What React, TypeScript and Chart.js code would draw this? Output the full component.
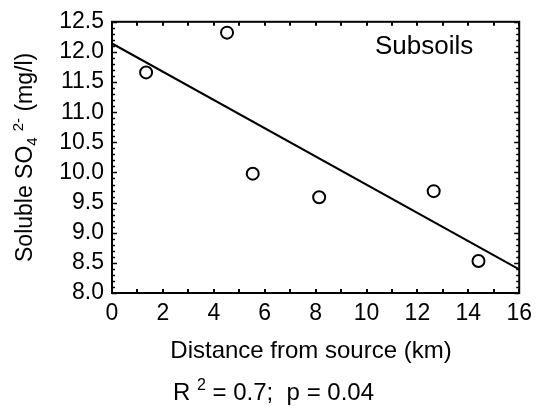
import React, { useEffect, useRef } from "react";
import { Chart, registerables } from "chart.js";

Chart.register(...registerables);

// ---- data ----
const sampleDistance = [1.34, 4.52, 5.53, 8.14, 12.64, 14.4];
const sampleSulfate = [11.66, 12.32, 9.98, 9.59, 9.69, 8.53];
const fitDistance = [0, 16];
const fitSulfate = [12.14, 8.39];

const xTickStep = 2;
const yTickStep = 0.5;
const xRange = [0, 16];
const yRange = [8.0, 12.5];

const xTitle = "Distance from source (km)";
const yTitleMain = "Soluble SO";
const yTitleSub = "4";
const yTitleSup = "2-";
const yTitleTail = " (mg/l)";
const panelLabel = "Subsoils";
const statsPre = "R ";
const statsSup = "2";
const statsPost = " = 0.7;  p = 0.04";

const FONT = '"Liberation Sans", Arial, Helvetica, sans-serif';

const decorPlugin = {
  id: "decor",
  afterDraw(chart: any) {
    const { ctx, chartArea: a } = chart;
    const x = chart.scales.x;
    const y = chart.scales.y;
    ctx.save();
    ctx.strokeStyle = "#000";
    ctx.fillStyle = "#000";

    // inward minor/major ticks on all four sides
    ctx.lineWidth = 2;
    for (let v = xRange[0]; v <= xRange[1]; v += 1) {
      const px = Math.round(x.getPixelForValue(v));
      ctx.beginPath();
      ctx.moveTo(px, a.bottom);
      ctx.lineTo(px, a.bottom - 4);
      ctx.moveTo(px, a.top);
      ctx.lineTo(px, a.top + 4);
      ctx.stroke();
    }
    ctx.lineWidth = 1.5;
    const nMinor = Math.round((yRange[1] - yRange[0]) / 0.1);
    for (let i = 0; i <= nMinor; i++) {
      const v = yRange[0] + i * 0.1;
      const py = Math.round(y.getPixelForValue(v)) + 0.5;
      const len = i % 5 === 0 ? 5 : 3;
      ctx.beginPath();
      ctx.moveTo(a.left, py);
      ctx.lineTo(a.left + len, py);
      ctx.moveTo(a.right, py);
      ctx.lineTo(a.right - len, py);
      ctx.stroke();
    }

    // frame
    ctx.lineWidth = 2;
    ctx.strokeRect(a.left, a.top, a.right - a.left, a.bottom - a.top);

    // panel label
    ctx.font = `26px ${FONT}`;
    ctx.textAlign = "left";
    ctx.textBaseline = "alphabetic";
    ctx.fillText(panelLabel, 375, 54);

    // x title
    ctx.font = `24px ${FONT}`;
    ctx.textAlign = "center";
    ctx.fillText(xTitle, 311, 358);

    // stats line
    ctx.textAlign = "left";
    let sx = 173;
    const sy = 400;
    ctx.font = `24px ${FONT}`;
    ctx.fillText(statsPre, sx, sy);
    sx += ctx.measureText(statsPre).width;
    ctx.font = `16px ${FONT}`;
    ctx.fillText(statsSup, sx, sy - 10);
    sx += ctx.measureText(statsSup).width;
    ctx.font = `24px ${FONT}`;
    ctx.fillText(statsPost, sx, sy);

    // y title (rotated, with subscript and superscript)
    const big = `23px ${FONT}`;
    const small = `15px ${FONT}`;
    ctx.font = big;
    const w1 = ctx.measureText(yTitleMain).width;
    const w4 = ctx.measureText(yTitleTail).width;
    ctx.font = small;
    const w2 = ctx.measureText(yTitleSub).width;
    const gap = 6;
    const w3 = ctx.measureText(yTitleSup).width;
    const total = w1 + w2 + gap + w3 + w4;
    ctx.translate(32, (a.top + a.bottom) / 2);
    ctx.rotate(-Math.PI / 2);
    let tx = -total / 2;
    ctx.font = big;
    ctx.fillText(yTitleMain, tx, 0);
    tx += w1;
    ctx.font = small;
    ctx.fillText(yTitleSub, tx, 5);
    tx += w2 + gap;
    ctx.fillText(yTitleSup, tx, -9);
    tx += w3;
    ctx.font = big;
    ctx.fillText(yTitleTail, tx, 0);

    ctx.restore();
  },
};

export default function App() {
  const ref = useRef<HTMLCanvasElement | null>(null);

  useEffect(() => {
    if (!ref.current) return;
    const samples = sampleDistance.map((d, i) => ({ x: d, y: sampleSulfate[i] }));
    const fit = fitDistance.map((d, i) => ({ x: d, y: fitSulfate[i] }));
    const chart = new Chart(ref.current, {
      type: "scatter",
      data: {
        datasets: [
          {
            data: samples,
            pointRadius: 6,
            pointHoverRadius: 6,
            borderWidth: 2,
            borderColor: "#000",
            backgroundColor: "#fff",
            pointStyle: "circle",
          },
          {
            data: fit,
            showLine: true,
            pointRadius: 0,
            borderColor: "#000",
            borderWidth: 2,
            backgroundColor: "#000",
          },
        ],
      },
      options: {
        animation: false,
        responsive: false,
        layout: { padding: { left: 0, right: 13, top: 20, bottom: 0 } },
        plugins: { legend: { display: false }, tooltip: { enabled: false } },
        scales: {
          x: {
            type: "linear",
            min: xRange[0],
            max: xRange[1],
            grid: { display: false, drawTicks: false },
            border: { display: false },
            ticks: {
              stepSize: xTickStep,
              autoSkip: false,
              color: "#000",
              font: { family: FONT, size: 23 },
              padding: 7,
              maxRotation: 0,
            },
            afterFit: (s: any) => {
              s.height = 115;
            },
          },
          y: {
            type: "linear",
            min: yRange[0],
            max: yRange[1],
            grid: { display: false, drawTicks: false },
            border: { display: false },
            ticks: {
              stepSize: yTickStep,
              autoSkip: false,
              color: "#000",
              font: { family: FONT, size: 23 },
              padding: 8,
              callback: (v: any) => Number(v).toFixed(1),
            },
            afterFit: (s: any) => {
              s.width = 112;
            },
          },
        },
      },
      plugins: [decorPlugin],
    });
    return () => chart.destroy();
  }, []);

  return (
    <div style={{ position: "absolute", left: 0, top: 0, width: 539, height: 408, background: "#fff" }}>
      <canvas ref={ref} width={539} height={408} style={{ width: 539, height: 408, display: "block" }} />
    </div>
  );
}
